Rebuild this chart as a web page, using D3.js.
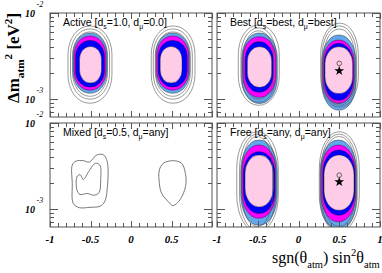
<!DOCTYPE html>
<html>
<head>
<meta charset="utf-8">
<script src="https://cdn.jsdelivr.net/npm/d3@7"></script>
<style>
  body { margin: 0; background: #fff; }
  svg { display: block; }
</style>
</head>
<body>
<div id="chart"></div>
<script>
// ! DATA ! //
const panelLabels = [
    [["Active [d", "n"], ["s", "sub"], ["=1.0, d", "n"], ["μ", "sub"], ["=0.0]", "n"]],
    [["Best [d", "n"], ["s", "sub"], ["=best, d", "n"], ["μ", "sub"], ["=best]", "n"]],
    [["Mixed [d", "n"], ["s", "sub"], ["=0.5, d", "n"], ["μ", "sub"], ["=any]", "n"]],
    [["Free [d", "n"], ["s", "sub"], ["=any, d", "n"], ["μ", "sub"], ["=any]", "n"]],
];
const xTicks = [-1, -0.5, 0, 0.5, 1];
const xTickLabelsLeft = ["-1", "-0.5", "0", "0.5"];
const xTickLabelsRight = ["-1", "-0.5", "0", "0.5", "1"];
const xMinorTicks = [-0.9, -0.8, -0.7, -0.6, -0.4, -0.3, -0.2, -0.1, 0.1, 0.2, 0.3, 0.4, 0.6, 0.7, 0.8, 0.9];
const yTicks = [1e-3, 1e-2];
const yTickExps = ["-3", "-2"];
const yMinorTicks = [7e-4, 8e-4, 9e-4, 2e-3, 3e-3, 4e-3, 5e-3, 6e-3, 7e-3, 8e-3, 9e-3];

// regions: [level, sin2 left, sin2 right, dm2 top, dm2 bottom]
const activeRegions = [
    ["s3", -0.716, -0.296, 5.85e-3, 1.17e-3],
    ["c99", -0.704, -0.309, 5.4e-3, 1.27e-3],
    ["c95", -0.685, -0.327, 4.8e-3, 1.38e-3],
    ["c90", -0.636, -0.364, 4.08e-3, 1.54e-3],
    ["line", -0.778, -0.235, 7.06e-3, 8.98e-4],
    ["line", -0.747, -0.265, 6.52e-3, 1.0e-3],
    ["line", -0.722, -0.29, 6.02e-3, 1.08e-3],
    ["s3", 0.305, 0.725, 5.85e-3, 1.17e-3],
    ["c99", 0.317, 0.713, 5.4e-3, 1.27e-3],
    ["c95", 0.336, 0.694, 4.8e-3, 1.38e-3],
    ["c90", 0.36, 0.63, 4.08e-3, 1.54e-3],
    ["line", 0.25, 0.79, 7.06e-3, 8.98e-4],
    ["line", 0.275, 0.757, 6.52e-3, 1.0e-3],
    ["line", 0.3, 0.732, 6.02e-3, 1.08e-3],
];
const bestRegions = [
    ["s3", -0.697, -0.26, 5.85e-3, 8.9e-4],
    ["c99", -0.685, -0.276, 5.3e-3, 1.05e-3],
    ["c95", -0.656, -0.309, 4.64e-3, 1.2e-3],
    ["c90", -0.628, -0.329, 4.06e-3, 1.37e-3],
    ["line", -0.739, -0.236, 7.25e-3, 8.5e-4],
    ["line", -0.706, -0.276, 6.7e-3, 9.2e-4],
    ["line", -0.675, -0.307, 6.2e-3, 1.0e-3],
    ["s3", 0.285, 0.706, 5.55e-3, 7.45e-4],
    ["c99", 0.297, 0.685, 4.85e-3, 8.9e-4],
    ["c95", 0.313, 0.672, 4.44e-3, 9.7e-4],
    ["c90", 0.325, 0.665, 4.06e-3, 1.16e-3],
    ["line", 0.272, 0.734, 7.6e-3, 8.1e-4],
    ["line", 0.29, 0.71, 7.06e-3, 8.5e-4],
    ["line", 0.31, 0.69, 6.5e-3, 9.0e-4],
];
const freeRegions = [
    ["s3", -0.709, -0.26, 6.33e-3, 6.5e-4],
    ["c99", -0.697, -0.276, 5.55e-3, 7.85e-4],
    ["c95", -0.677, -0.288, 4.64e-3, 8.9e-4],
    ["c90", -0.656, -0.309, 4.25e-3, 1.06e-3],
    ["line", -0.758, -0.248, 7.9e-3, 5.5e-4],
    ["line", -0.724, -0.282, 7.4e-3, 5.7e-4],
    ["line", -0.693, -0.319, 6.95e-3, 6.3e-4],
    ["s3", 0.264, 0.714, 6.33e-3, 5.8e-4],
    ["c99", 0.276, 0.702, 5.55e-3, 7.13e-4],
    ["c95", 0.297, 0.693, 4.85e-3, 8.5e-4],
    ["c90", 0.313, 0.681, 4.25e-3, 9.7e-4],
    ["line", 0.255, 0.746, 7.9e-3, 5.5e-4],
    ["line", 0.275, 0.72, 7.4e-3, 5.7e-4],
    ["line", 0.295, 0.7, 6.95e-3, 6.3e-4],
];
// mixed panel contours: [sin2, dm2]
const mixedOuter = [
    [-0.725, 3.25e-3], [-0.679, 3.61e-3], [-0.589, 3.65e-3], [-0.515, 3.52e-3], [-0.423, 4.25e-3],
    [-0.342, 4.28e-3], [-0.293, 3.55e-3], [-0.293, 1.74e-3], [-0.325, 1.22e-3], [-0.383, 1.08e-3],
    [-0.506, 1.05e-3], [-0.638, 1.04e-3], [-0.712, 1.16e-3], [-0.725, 1.99e-3],
];
const mixedInner = [
    [-0.663, 2.42e-3], [-0.625, 2.5e-3], [-0.59, 2.2e-3], [-0.52, 2.75e-3], [-0.44, 3.4e-3],
    [-0.385, 3.25e-3], [-0.374, 2.2e-3], [-0.395, 1.55e-3], [-0.46, 1.45e-3], [-0.54, 1.52e-3],
    [-0.63, 1.48e-3], [-0.67, 1.7e-3],
];
const mixedRight = [
    [0.35, 2.84e-3], [0.399, 3.4e-3], [0.522, 3.65e-3], [0.626, 3.4e-3], [0.667, 2.72e-3],
    [0.679, 1.99e-3], [0.638, 1.46e-3], [0.572, 1.18e-3], [0.515, 1.1e-3], [0.461, 1.22e-3],
    [0.379, 1.52e-3], [0.35, 1.99e-3],
];
// best fit (star) and secondary point (circle): [sin2, dm2]
const bestStar = [0.5, 2.13e-3];
const bestCircle = [0.5, 2.6e-3];
const freeStar = [0.5, 2.07e-3];
const freeCircle = [0.5, 2.48e-3];

const xTitle = [["sgn(θ", "n"], ["atm", "sub"], [") sin", "n"], ["2", "sup"], ["θ", "n"], ["atm", "sub"]];
const yTitle = [["Δm", "n"], ["atm", "sub"], ["2", "sup"], [" [eV", "n"], ["2", "sup"], ["]", "n"]];

// ! LAYOUT ! //
const width = 382;
const height = 273;
const cols = [[50, 212], [217, 380]];
const rows = [[13, 117], [123, 227]];
const yDomain = [6.2e-4, 1e-2];
const fillColors = { s3: "#62a6ec", c99: "#ff00ff", c95: "#0000ff", c90: "#ffcce8" };
const serif = "'Liberation Serif', 'Times New Roman', serif";
const sans = "'Liberation Sans', Arial, sans-serif";

const xScales = cols.map((c) => d3.scaleLinear().domain([-1, 1]).range(c));
const yScales = rows.map((r) => d3.scaleLog().domain(yDomain).range([r[1], r[0]]));

const svg = d3.select("#chart").append("svg").attr("width", width).attr("height", height);

// rich text with sub / superscripts
const addRich = (text, parts, size) => {
    let shift = 0;
    parts.forEach(([t, kind]) => {
        const target = kind === "sub" ? size * 0.32 : kind === "sup" ? -size * 0.42 : 0;
        text.append("tspan")
            .attr("dy", target - shift)
            .attr("font-size", kind === "n" ? size : size * 0.66)
            .text(t);
        shift = target;
    });
};

// rounded region drawn from its extents
const drawRegions = (sel, data, cls, x, y, rxk, ryk) =>
    sel.selectAll("rect." + cls)
        .data(data)
        .join("rect")
        .attr("class", cls)
        .attr("x", (r) => x(r[1]))
        .attr("width", (r) => x(r[2]) - x(r[1]))
        .attr("y", (r) => y(r[3]))
        .attr("height", (r) => y(r[4]) - y(r[3]))
        .attr("rx", (r) => (x(r[2]) - x(r[1])) * rxk)
        .attr("ry", (r) => (y(r[4]) - y(r[3])) * ryk);

const panels = [
    { regions: activeRegions, col: 0, row: 0 },
    { regions: bestRegions, col: 1, row: 0, star: bestStar, circle: bestCircle },
    { regions: [], col: 0, row: 1, curves: [mixedOuter, mixedInner, mixedRight] },
    { regions: freeRegions, col: 1, row: 1, star: freeStar, circle: freeCircle },
];

panels.forEach((p, i) => {
    const x = xScales[p.col];
    const y = yScales[p.row];
    const [x0, x1] = cols[p.col];
    const [y0, y1] = rows[p.row];

    svg.append("clipPath").attr("id", "clip" + i)
        .append("rect").attr("x", x0).attr("y", y0).attr("width", x1 - x0).attr("height", y1 - y0);

    const plot = svg.append("g").attr("clip-path", `url(#clip${i})`);

    // filled confidence regions
    drawRegions(plot, p.regions.filter((r) => r[0] !== "line"), "region", x, y, 0.48, 0.36)
        .attr("fill", (r) => fillColors[r[0]])
        .attr("stroke", "#111")
        .attr("stroke-width", 0.4);

    // contour lines
    drawRegions(plot, p.regions.filter((r) => r[0] === "line"), "line", x, y, 0.48, 0.37)
        .attr("fill", "none")
        .attr("stroke", "#555")
        .attr("stroke-width", 0.6);

    if (p.curves) {
        const line = d3.line()
            .x((d) => x(d[0]))
            .y((d) => y(d[1]))
            .curve(d3.curveCatmullRomClosed.alpha(0.5));
        plot.selectAll("path.curve")
            .data(p.curves)
            .join("path")
            .attr("class", "curve")
            .attr("d", line)
            .attr("fill", "none")
            .attr("stroke", "#555")
            .attr("stroke-width", 0.8);
    }

    if (p.star) {
        plot.append("circle")
            .attr("cx", x(p.circle[0]))
            .attr("cy", y(p.circle[1]))
            .attr("r", 2.3)
            .attr("fill", "none")
            .attr("stroke", "#444")
            .attr("stroke-width", 0.8);
        plot.append("path")
            .attr("d", d3.symbol(d3.symbolStar).size(30)())
            .attr("transform", `translate(${x(p.star[0])},${y(p.star[1])})`)
            .attr("fill", "#000");
    }

    // frame
    const frame = svg.append("g").attr("stroke", "#555").attr("stroke-width", 1).attr("fill", "none");
    frame.append("rect").attr("x", x0).attr("y", y0).attr("width", x1 - x0).attr("height", y1 - y0);

    // x ticks (bottom and top, pointing in)
    const xt = xTicks.map((v) => [v, 6]).concat(xMinorTicks.map((v) => [v, 4]));
    xt.forEach(([v, len]) => {
        const px = Math.round(x(v)) + 0.5;
        frame.append("line").attr("x1", px).attr("x2", px).attr("y1", y1).attr("y2", y1 - len);
        frame.append("line").attr("x1", px).attr("x2", px).attr("y1", y0).attr("y2", y0 + len);
    });
    // y ticks (left and right, pointing in)
    const yt = yTicks.map((v) => [v, 8]).concat(yMinorTicks.map((v) => [v, 4]));
    yt.forEach(([v, len]) => {
        const py = Math.round(y(v)) + 0.5;
        frame.append("line").attr("x1", x0).attr("x2", x0 + len).attr("y1", py).attr("y2", py);
        frame.append("line").attr("x1", x1).attr("x2", x1 - len).attr("y1", py).attr("y2", py);
    });

    // panel label
    const label = svg.append("text")
        .attr("x", x0 + 13)
        .attr("y", y0 + 13)
        .attr("font-family", sans)
        .attr("fill", "#000");
    addRich(label, panelLabels[i], 10.5);

    // y tick labels on left column
    if (p.col === 0) {
        yTicks.forEach((v, k) => {
            svg.append("text")
                .attr("x", 35)
                .attr("y", y(v) + 4)
                .attr("text-anchor", "end")
                .attr("font-family", serif)
                .attr("font-style", "italic")
                .attr("font-weight", "bold")
                .attr("font-size", 10)
                .text("10");
            svg.append("text")
                .attr("x", 36.5)
                .attr("y", y(v) - 6)
                .attr("font-family", serif)
                .attr("font-style", "italic")
                .attr("font-size", 8)
                .text(yTickExps[k]);
        });
    }

    // x tick labels on bottom row
    if (p.row === 1) {
        const labels = p.col === 0 ? xTickLabelsLeft : xTickLabelsRight;
        labels.forEach((t, k) => {
            svg.append("text")
                .attr("x", x(xTicks[k]))
                .attr("y", 243)
                .attr("text-anchor", "middle")
                .attr("font-family", serif)
                .attr("font-style", "italic")
                .attr("font-weight", "bold")
                .attr("font-size", 11)
                .text(t);
        });
    }
});

// ! AXIS TITLES ! //
const xt = svg.append("text")
    .attr("x", 272)
    .attr("y", 263)
    .attr("font-family", serif)
    .attr("fill", "#000");
addRich(xt, xTitle, 16);

const yTitleText = svg.append("text")
    .attr("transform", "translate(19,103) rotate(-90)")
    .attr("font-family", serif)
    .attr("font-weight", "bold")
    .attr("fill", "#000");
addRich(yTitleText, yTitle, 17);
</script>
</body>
</html>
